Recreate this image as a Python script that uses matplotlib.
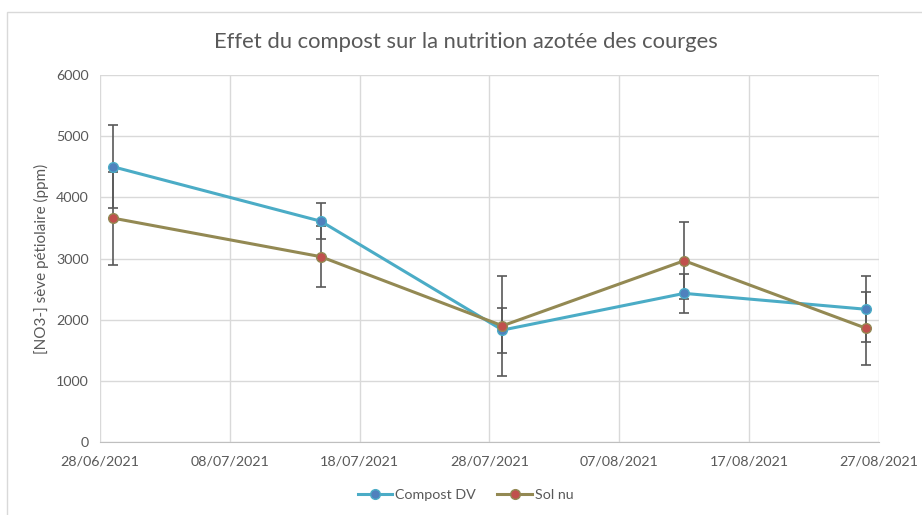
import matplotlib
matplotlib.use("Agg")
import matplotlib.pyplot as plt
import matplotlib.dates as mdates
from matplotlib.patches import Rectangle
from datetime import datetime, timedelta

dates = ["29/06/2021", "15/07/2021", "29/07/2021", "12/08/2021", "26/08/2021"]
compost = [4500, 3610, 1830, 2430, 2170]
compost_err = [680, 290, 368, 315, 540]
solnu = [3660, 3030, 1900, 2964, 1860]
solnu_err = [760, 500, 818, 631, 595]
tick_dates = ["28/06/2021", "08/07/2021", "18/07/2021", "28/07/2021",
              "07/08/2021", "17/08/2021", "27/08/2021"]

plt.rcParams['font.family'] = ['Lato', 'DejaVu Sans']
txt = '#595959'

x = [datetime.strptime(d, "%d/%m/%Y") for d in dates]
xt = [datetime.strptime(d, "%d/%m/%Y") for d in tick_dates]

fig = plt.figure(figsize=(9.22, 5.15), dpi=100)
ax = fig.add_axes([100/922, 73/515, 779/922, 367/515])

fig.patches.append(Rectangle((7/922, -0.01), 1.0, (515-12)/515 + 0.01,
                             transform=fig.transFigure, fill=False,
                             edgecolor='#d9d9d9', linewidth=1))

ax.errorbar(x, compost, yerr=compost_err, fmt='none', ecolor='#595959',
            elinewidth=1.2, capsize=3.5, capthick=1.2, zorder=2)
ax.errorbar(x, solnu, yerr=solnu_err, fmt='none', ecolor='#595959',
            elinewidth=1.2, capsize=3.5, capthick=1.2, zorder=2)

ax.plot(x, compost, color='#4BACC6', linewidth=2.2, marker='o', markersize=7,
        markerfacecolor='#4F81BD', markeredgecolor='#4BACC6', markeredgewidth=1,
        label='Compost DV', zorder=3)
ax.plot(x, solnu, color='#938953', linewidth=2.2, marker='o', markersize=7,
        markerfacecolor='#C0504D', markeredgecolor='#938953', markeredgewidth=1,
        label='Sol nu', zorder=3)

ax.set_xlim(xt[0], xt[-1])
ax.set_ylim(0, 6000)
ax.set_xticks(xt)
ax.set_xticklabels(tick_dates)
ax.set_yticks(range(0, 6001, 1000))

ax.grid(True, color='#d9d9d9', linewidth=1)
ax.set_axisbelow(True)
for s in ['top', 'right', 'left']:
    ax.spines[s].set_visible(False)
ax.spines['bottom'].set_color('#bfbfbf')
ax.tick_params(axis='both', length=0, labelsize=10.3, colors=txt, pad=8)
ax.tick_params(axis='x', pad=10)

ax.set_ylabel('[NO3-] sève pétiolaire (ppm)', fontsize=11, color=txt, labelpad=5)
fig.text(0.505, 0.918, 'Effet du compost sur la nutrition azotée des courges',
         ha='center', va='center', fontsize=15.8, color=txt)

leg = fig.legend(loc='center', bbox_to_anchor=(0.505, 0.038), ncol=2,
                 frameon=False, fontsize=10.3, handlelength=2.4,
                 columnspacing=1.5, handletextpad=0.2)
for t in leg.get_texts():
    t.set_color(txt)

fig.savefig('out.png', dpi=100)
